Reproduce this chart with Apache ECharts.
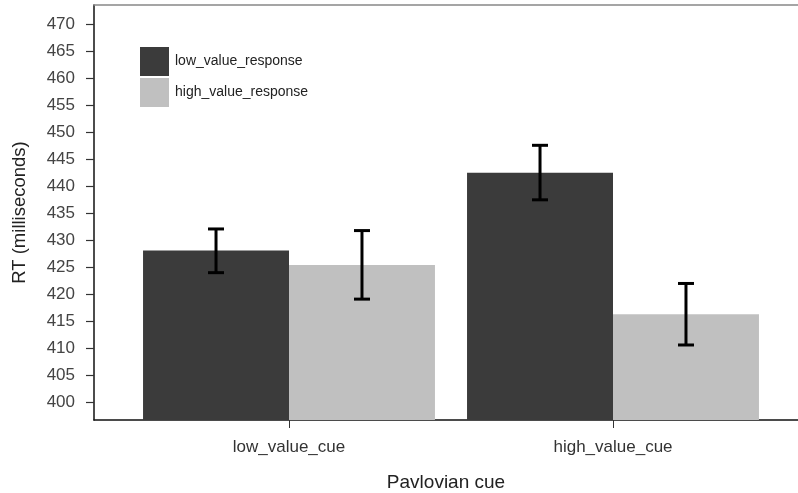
<!DOCTYPE html>
<html>
<head>
<meta charset="utf-8">
<script src="https://cdn.jsdelivr.net/npm/echarts@6/dist/echarts.min.js"></script>
<style>
  html, body { margin: 0; padding: 0; background: #fff; }
  #chart { width: 798px; height: 493px; }
</style>
</head>
<body>
<div id="chart"></div>
<script>
// data
const categories = ['low_value_cue', 'high_value_cue']
const seriesNames = ['low_value_response', 'high_value_response']
const lowResponse = [428.1, 442.5]
const highResponse = [425.4, 416.3]
// error bar ranges [lower, upper]
const lowResponseErr = [[424.0, 432.1], [437.5, 447.6]]
const highResponseErr = [[419.1, 431.8], [410.6, 422.0]]
const yTicks = [400, 405, 410, 415, 420, 425, 430, 435, 440, 445, 450, 455, 460, 465, 470]

const FONT = 'Liberation Sans, Arial, sans-serif'
const Y_MIN = 396.7
const Y_MAX = 473.6
const CAT_GAP = 0.099

const myChart = echarts.init(document.getElementById('chart'))

// 误差线
function errorBar(side) {
  return function(params, api) {
    const i = api.value(0)
    const top = api.coord([i, api.value(2)])
    const bot = api.coord([i, api.value(1)])
    const band = api.size([1, 0])[0]
    const barW = band * (1 - CAT_GAP) / 2
    const x = top[0] + side * barW / 2
    const cap = 8
    const style = { stroke: '#000', lineWidth: 3 }
    return {
      type: 'group',
      children: [
        { type: 'line', shape: { x1: x, y1: top[1], x2: x, y2: bot[1] }, style: style },
        { type: 'line', shape: { x1: x - cap, y1: top[1], x2: x + cap, y2: top[1] }, style: style },
        { type: 'line', shape: { x1: x - cap, y1: bot[1], x2: x + cap, y2: bot[1] }, style: style }
      ]
    }
  }
}

const option = {
  animation: false,
  textStyle: { fontFamily: FONT },
  grid: [
    { left: 94, right: 0, top: 5, bottom: 73, outerBoundsMode: 'none' },
    { left: 127, right: 23, top: 5, bottom: 73, outerBoundsMode: 'none' }
  ],
  legend: {
    orient: 'vertical',
    left: 135,
    top: 42,
    icon: 'rect',
    itemWidth: 29,
    itemHeight: 29,
    itemGap: 2,
    data: seriesNames,
    textStyle: { fontSize: 14, color: '#222', fontFamily: FONT, padding: [0, 0, 0, 1] }
  },
  xAxis: [
    {
      // frame bottom line + axis name
      gridIndex: 0,
      type: 'value',
      min: 0,
      max: 1,
      axisLine: { show: true, lineStyle: { color: '#111', width: 1.5 } },
      axisTick: { show: false },
      axisLabel: { show: false },
      splitLine: { show: false },
      name: 'Pavlovian cue',
      nameLocation: 'middle',
      nameGap: 53,
      nameTextStyle: { fontSize: 19, color: '#222', fontFamily: FONT }
    },
    {
      // frame top line
      gridIndex: 0,
      type: 'value',
      position: 'top',
      min: 0,
      max: 1,
      axisLine: { show: true, lineStyle: { color: '#888', width: 1.5 } },
      axisTick: { show: false },
      axisLabel: { show: false },
      splitLine: { show: false }
    },
    {
      gridIndex: 1,
      type: 'category',
      data: categories,
      axisLine: { show: false },
      axisTick: { show: true, alignWithLabel: true, length: 8, lineStyle: { color: '#333', width: 1 } },
      axisLabel: { fontSize: 17, color: '#333', margin: 19, fontFamily: FONT },
      splitLine: { show: false }
    }
  ],
  yAxis: [
    {
      gridIndex: 0,
      type: 'value',
      min: Y_MIN,
      max: Y_MAX,
      axisLine: { show: true, lineStyle: { color: '#111', width: 1.5 } },
      axisTick: { show: true, length: 8, customValues: yTicks, lineStyle: { color: '#333', width: 1.2 } },
      axisLabel: { fontSize: 17, color: '#444', margin: 19, customValues: yTicks, fontFamily: FONT },
      splitLine: { show: false },
      name: 'RT (milliseconds)',
      nameLocation: 'middle',
      nameGap: 65,
      nameTextStyle: { fontSize: 18.5, color: '#222', fontFamily: FONT }
    },
    {
      gridIndex: 1,
      type: 'value',
      min: Y_MIN,
      max: Y_MAX,
      show: false
    }
  ],
  series: [
    {
      name: seriesNames[0],
      type: 'bar',
      xAxisIndex: 2,
      yAxisIndex: 1,
      data: lowResponse,
      barGap: '0%',
      barCategoryGap: (CAT_GAP * 100) + '%',
      itemStyle: { color: '#3b3b3b' }
    },
    {
      name: seriesNames[1],
      type: 'bar',
      xAxisIndex: 2,
      yAxisIndex: 1,
      data: highResponse,
      itemStyle: { color: '#c0c0c0' }
    },
    {
      type: 'custom',
      xAxisIndex: 2,
      yAxisIndex: 1,
      renderItem: errorBar(-1),
      encode: { x: 0, y: [1, 2] },
      data: lowResponseErr.map((d, i) => [i, d[0], d[1]]),
      z: 10
    },
    {
      type: 'custom',
      xAxisIndex: 2,
      yAxisIndex: 1,
      renderItem: errorBar(1),
      encode: { x: 0, y: [1, 2] },
      data: highResponseErr.map((d, i) => [i, d[0], d[1]]),
      z: 10
    }
  ]
}

myChart.setOption(option)
window.addEventListener('resize', function() {
  myChart.resize()
})
</script>
</body>
</html>
